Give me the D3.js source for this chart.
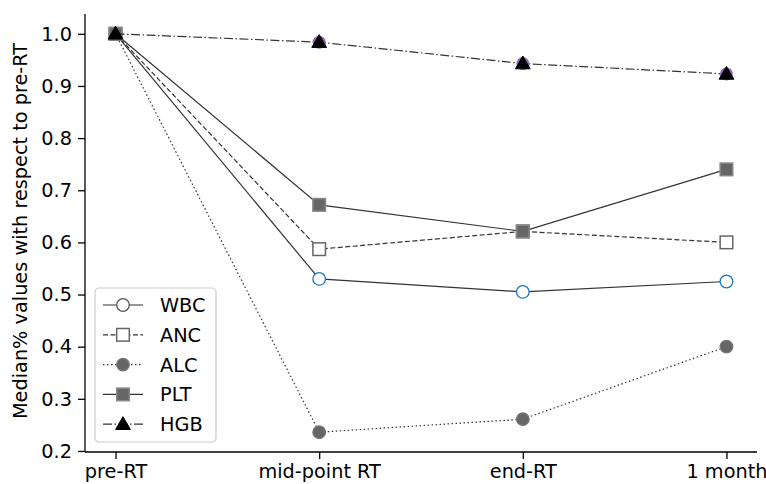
<!DOCTYPE html>
<html>
<head>
<meta charset="utf-8">
<script src="https://cdn.jsdelivr.net/npm/d3@7"></script>
<style>
  body { margin: 0; background: #fff; }
  text { font-family: "DejaVu Sans", sans-serif; fill: #000; }
</style>
</head>
<body>
<svg id="svg" width="766" height="484"></svg>
<script>
// time points along x
var timepoints = ["pre-RT", "mid-point RT", "end-RT", "1 month"]

// median values relative to pre-RT
var wbc = [1.0, 0.530, 0.505, 0.525]
var anc = [1.0, 0.587, 0.621, 0.600]
var alc = [1.0, 0.236, 0.261, 0.400]
var plt = [1.0, 0.672, 0.621, 0.740]
var hgb = [1.0, 0.984, 0.943, 0.923]

var yTicks = [0.2, 0.3, 0.4, 0.5, 0.6, 0.7, 0.8, 0.9, 1.0]

var series = [
  {name: "WBC", values: wbc, dash: null,              marker: "circle",   fill: "#fff",    stroke: "#1f77b4"},
  {name: "ANC", values: anc, dash: "5,2.5",           marker: "square",   fill: "#fff",    stroke: "#666"},
  {name: "ALC", values: alc, dash: "1.5,2.5",         marker: "circle",   fill: "#666",    stroke: "#777"},
  {name: "PLT", values: plt, dash: null,              marker: "square",   fill: "#666",    stroke: "#888"},
  {name: "HGB", values: hgb, dash: "9,2.5,1.5,2.5",   marker: "triangle", fill: "#000",    stroke: "#000"}
]

var fs = 19.3
var svg = d3.select("#svg")
var mLeft = 85, mRight = 757, mTop = 14, mBottom = 452

var x = d3.scaleLinear().domain([-0.15, 3.15]).range([mLeft, mRight])
var y = d3.scaleLinear().domain([0.198, 1.038]).range([mBottom, mTop])

// axes
var xAxis = d3.axisBottom(x).tickValues([0, 1, 2, 3]).tickFormat(i => timepoints[i]).tickSize(7).tickPadding(5)
var yAxis = d3.axisLeft(y).tickValues(yTicks).tickFormat(d3.format(".1f")).tickSize(7).tickPadding(6)

var gx = svg.append("g").attr("transform", "translate(0," + mBottom + ")").call(xAxis)
var gy = svg.append("g").attr("transform", "translate(" + mLeft + ",0)").call(yAxis)
gx.select(".domain").attr("d", "M" + mLeft + ",0H" + mRight)
gy.select(".domain").attr("d", "M0," + mBottom + "V" + mTop)
svg.selectAll(".domain, .tick line").attr("stroke", "#000").attr("stroke-width", 1.3)
svg.selectAll(".tick text").attr("font-size", fs).attr("font-family", "DejaVu Sans")

svg.append("text")
  .attr("transform", "translate(27,231) rotate(-90)")
  .attr("text-anchor", "middle")
  .attr("font-size", fs)
  .text("Median% values with respect to pre-RT")

function drawMarker(g, type, cx, cy, fill, stroke) {
  if (type == "circle") {
    g.append("circle").attr("cx", cx).attr("cy", cy).attr("r", 6.3)
      .attr("fill", fill).attr("stroke", stroke).attr("stroke-width", 1.3)
  } else if (type == "square") {
    g.append("rect").attr("x", cx - 6.3).attr("y", cy - 6.3).attr("width", 12.6).attr("height", 12.6)
      .attr("fill", fill).attr("stroke", stroke).attr("stroke-width", 1.5)
  } else {
    g.append("path").attr("d", d3.symbol(d3.symbolTriangle, 95)()).attr("transform", "translate(" + cx + "," + (cy + 1) + ")")
      .attr("fill", fill).attr("stroke", stroke).attr("stroke-width", 1)
  }
}

var line = d3.line().x((d, i) => x(i)).y(d => y(d))

series.forEach(function(s) {
  var g = svg.append("g")
  g.append("path").datum(s.values).attr("d", line)
    .attr("fill", "none").attr("stroke", "#333").attr("stroke-width", 1.2)
    .attr("stroke-dasharray", s.dash)
  s.values.forEach(function(v, i) {
    if (s.name == "HGB" && i > 0) {
      g.append("circle").attr("cx", x(i)).attr("cy", y(v)).attr("r", 6.5).attr("fill", "#9467bd")
    }
    drawMarker(g, s.marker, x(i), y(v), s.fill, s.stroke)
  })
})

// legend
var lg = svg.append("g").attr("transform", "translate(95,288)")
lg.append("rect").attr("width", 121).attr("height", 154).attr("rx", 4)
  .attr("fill", "#fff").attr("fill-opacity", 0.8).attr("stroke", "#ccc").attr("stroke-width", 1.2)
series.forEach(function(s, i) {
  var yy = 17 + i * 29.8
  lg.append("line").attr("x1", 8).attr("x2", 48).attr("y1", yy).attr("y2", yy)
    .attr("stroke", "#333").attr("stroke-width", 1.2).attr("stroke-dasharray", s.dash)
  drawMarker(lg, s.marker, 28, yy, s.fill, s.name == "WBC" ? "#555" : s.stroke)
  lg.append("text").attr("x", 65).attr("y", yy + 7).attr("font-size", fs).text(s.name)
})
</script>
</body>
</html>
